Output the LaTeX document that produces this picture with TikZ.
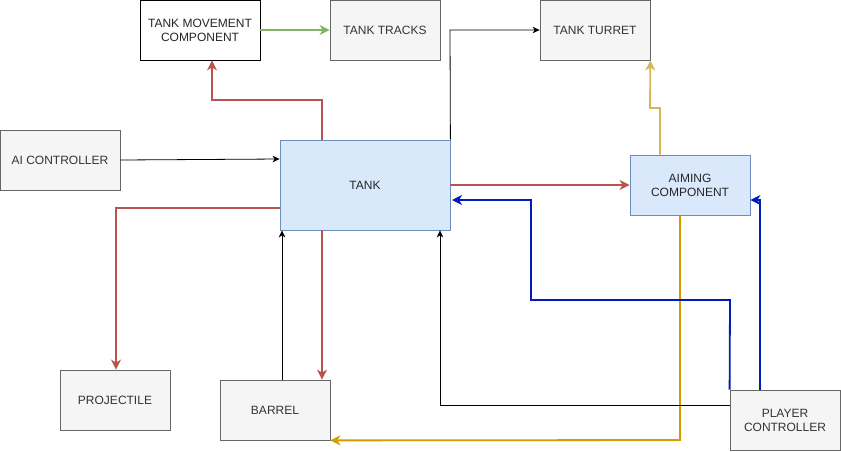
\documentclass[tikz,border=0pt]{standalone}
\usepackage{fontspec}
\setmainfont{Liberation Sans}
\usetikzlibrary{arrows.meta}
\definecolor{grayfill}{HTML}{F5F5F5}
\definecolor{grayline}{HTML}{666666}
\definecolor{graytext}{HTML}{333333}
\definecolor{bluefill}{HTML}{DAE8FC}
\definecolor{blueline}{HTML}{6C8EBF}
\definecolor{redline}{HTML}{B85450}
\definecolor{greenline}{HTML}{82B366}
\definecolor{yellowline}{HTML}{D6B656}
\definecolor{orangeline}{HTML}{D79B00}
\definecolor{darkblue}{HTML}{001DBC}
\tikzset{
  box/.style={draw=grayline, fill=grayfill, text=graytext, line width=0.8pt, inner sep=0pt, align=center, font=\fontsize{12}{14}\selectfont},
  bluebox/.style={box, draw=blueline, fill=bluefill, text=black!85},
  whitebox/.style={box, draw=black, fill=white, text=black!85},
  thinarrow/.style={draw=black, line width=0.8pt, -{Stealth[length=7pt,width=6.5pt,inset=2pt]}},
  thickarrow/.style={line width=1.8pt, -{Stealth[length=10pt,width=10pt,inset=3pt]}},
}
\begin{document}
\begin{tikzpicture}[x=1pt,y=-1pt]
\useasboundingbox (0,0) rectangle (841,451);
\node[whitebox, minimum width=120pt, minimum height=60pt] (move) at (200,30) {TANK MOVEMENT\\COMPONENT};
\node[box, minimum width=110pt, minimum height=60pt] (tracks) at (385,30) {TANK TRACKS};
\node[box, minimum width=110pt, minimum height=60pt] (turret) at (595,30) {TANK TURRET};
\node[box, minimum width=120pt, minimum height=60pt] (ai) at (60,160) {AI CONTROLLER};
\node[bluebox, minimum width=170pt, minimum height=90pt] (tank) at (365,185) {TANK};
\node[bluebox, minimum width=120pt, minimum height=60pt] (aim) at (690,185) {AIMING\\COMPONENT};
\node[box, minimum width=110pt, minimum height=60pt] (proj) at (115,400) {PROJECTILE};
\node[box, minimum width=110pt, minimum height=60pt] (barrel) at (275,410) {BARREL};
\node[box, minimum width=110pt, minimum height=60pt] (player) at (785,420) {PLAYER\\CONTROLLER};

% green
\draw[thickarrow, greenline] (move.east) -- (tracks.west);
% red tank -> movement
\draw[thickarrow, redline] (tank.north -| 322,0) -- (322,100) -- (212,100) -- (move.south -| 212,0);
% black tank -> turret
\draw[thinarrow] (tank.north east) -- (450,30) -- (turret.west);
% ai -> tank
\draw[thinarrow] (ai.east) -- (tank.west |- 0,159);
% red tank -> projectile
\draw[thickarrow, redline] (tank.west |- 0,208) -- (116,208) -- (proj.north -| 116,0);
% red tank -> aiming
\draw[thickarrow, redline] (tank.east |- aim.west) -- (aim.west);
% yellow aiming -> turret
\draw[thickarrow, yellowline] (aim.north -| 660,0) -- (660,108) -- (650,108) -- (turret.south east);
% orange aiming -> barrel
\draw[thickarrow, orangeline] (aim.south -| 680,0) -- (680,440) -- (barrel.south east);
% barrel -> tank
\draw[thinarrow] (barrel.north -| 282,0) -- (tank.south -| 282,0);
% tank -> barrel red
\draw[thickarrow, redline] (tank.south -| 322,0) -- (barrel.north -| 322,0);
% player -> tank black
\draw[thinarrow] (player.west |- 0,405) -- (440,405) -- (tank.south -| 440,0);
% player -> tank blue
\draw[thickarrow, darkblue] (player.north west) -- (730,300) -- (531,300) -- (531,200) -- (452,200);
% player -> aiming blue
\draw[thickarrow, darkblue] (player.north -| 760,0) -- (760,200) -- (aim.east |- 0,200);
\end{tikzpicture}
\end{document}
